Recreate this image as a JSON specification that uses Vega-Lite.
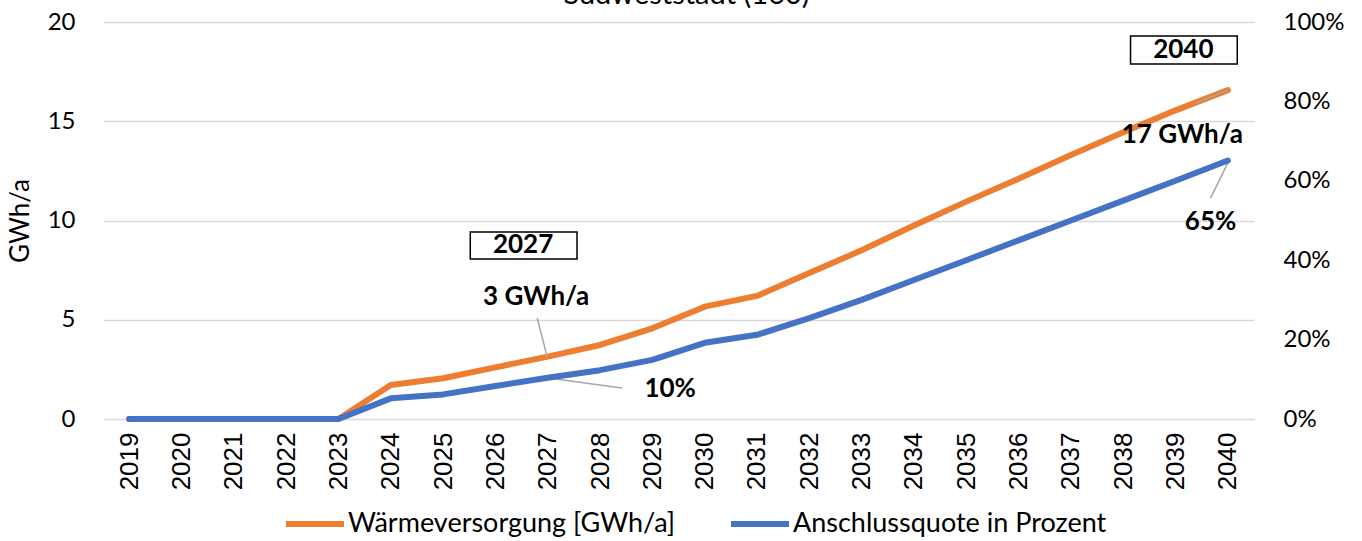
{
  "$schema": "https://vega.github.io/schema/vega-lite/v6.json",
  "width": 1151,
  "height": 397,
  "autosize": {"type": "none"},
  "padding": {"top": 22, "left": 103, "right": 108, "bottom": 122},
  "background": "white",
  "title": {
    "text": "Südweststadt (160)",
    "font": "Lato",
    "fontSize": 29,
    "fontWeight": "normal",
    "color": "#000000",
    "anchor": "middle",
    "frame": "group",
    "orient": "top",
    "baseline": "bottom",
    "offset": 0,
    "dy": 29,
    "dx": 8
  },
  "data": {
    "values": [
      {"year": 2019, "waerme": 0, "quote": 0},
      {"year": 2020, "waerme": 0, "quote": 0},
      {"year": 2021, "waerme": 0, "quote": 0},
      {"year": 2022, "waerme": 0, "quote": 0},
      {"year": 2023, "waerme": 0, "quote": 0},
      {"year": 2024, "waerme": 1.71, "quote": 0.052},
      {"year": 2025, "waerme": 2.05, "quote": 0.062},
      {"year": 2026, "waerme": 2.6, "quote": 0.083},
      {"year": 2027, "waerme": 3.14, "quote": 0.104},
      {"year": 2028, "waerme": 3.73, "quote": 0.123},
      {"year": 2029, "waerme": 4.57, "quote": 0.149},
      {"year": 2030, "waerme": 5.66, "quote": 0.192},
      {"year": 2031, "waerme": 6.2, "quote": 0.212},
      {"year": 2032, "waerme": 7.35, "quote": 0.254},
      {"year": 2033, "waerme": 8.5, "quote": 0.3},
      {"year": 2034, "waerme": 9.75, "quote": 0.35},
      {"year": 2035, "waerme": 10.95, "quote": 0.4},
      {"year": 2036, "waerme": 12.1, "quote": 0.45},
      {"year": 2037, "waerme": 13.3, "quote": 0.5},
      {"year": 2038, "waerme": 14.45, "quote": 0.55},
      {"year": 2039, "waerme": 15.55, "quote": 0.6},
      {"year": 2040, "waerme": 16.57, "quote": 0.651}
    ]
  },
  "encoding": {
    "x": {
      "field": "year",
      "type": "quantitative",
      "scale": {"domain": [2018.5, 2040.5], "nice": false, "zero": false},
      "axis": {
        "title": null,
        "values": [2019, 2020, 2021, 2022, 2023, 2024, 2025, 2026, 2027, 2028, 2029, 2030, 2031, 2032, 2033, 2034, 2035, 2036, 2037, 2038, 2039, 2040],
        "format": "d",
        "labelAngle": -90,
        "labelFont": "Liberation Sans",
        "labelFontSize": 26,
        "labelColor": "#000000",
        "labelPadding": 13,
        "labelFlush": false,
        "labelOverlap": false,
        "grid": false,
        "ticks": false,
        "domain": false
      }
    }
  },
  "layer": [
    {
      "layer": [
        {
          "mark": {"type": "line", "strokeWidth": 6, "strokeCap": "round", "strokeJoin": "round"},
          "encoding": {
            "y": {
              "field": "waerme",
              "type": "quantitative",
              "scale": {"domain": [0, 20], "nice": false},
              "axis": {
                "title": "GWh/a",
                "values": [0, 5, 10, 15, 20],
                "grid": true,
                "gridColor": "#d9d9d9",
                "gridWidth": 1.5,
                "ticks": false,
                "domain": false,
                "labelFont": "Lato",
                "labelFontSize": 24,
                "labelColor": "#000000",
                "labelPadding": 28,
                "titleFont": "Lato",
                "titleFontSize": 26,
                "titleFontWeight": "normal",
                "titleColor": "#000000",
                "titlePadding": 14
              }
            },
            "color": {
              "datum": "Wärmeversorgung [GWh/a]",
              "type": "nominal",
              "scale": {
                "domain": ["Wärmeversorgung [GWh/a]", "Anschlussquote in Prozent"],
                "range": ["#ED7D31", "#4472C4"]
              },
              "legend": {
                "title": null,
                "orient": "none",
                "direction": "horizontal",
                "legendX": 180,
                "legendY": 470,
                "symbolType": "stroke",
                "symbolSize": 3364,
                "symbolStrokeWidth": 6,
                "labelFont": "Lato",
                "labelFontSize": 27,
                "labelColor": "#000000",
                "labelOffset": 1,
                "columnPadding": 43,
                "labelLimit": 500
              }
            }
          }
        },
        {
          "data": {
            "values": [
              {"year": 2026.8, "year2": 2026.99, "v": 5.09, "v2": 3.12},
              {"year": 2027.01, "year2": 2028.42, "v": 2.07, "v2": 1.56},
              {"year": 2040.01, "year2": 2039.67, "v": 12.95, "v2": 11.13},
              {"year": 2040.01, "year2": 2039.38, "v": 16.57, "v2": 15.92}
            ]
          },
          "mark": {"type": "rule", "color": "#a6a6a6", "strokeWidth": 1.5},
          "encoding": {
            "x2": {"field": "year2"},
            "y": {"field": "v", "type": "quantitative", "axis": {"title": "GWh/a"}},
            "y2": {"field": "v2"}
          }
        },
        {
          "data": {
            "values": [
              {"year": 2025.52, "year2": 2027.56, "v": 9.42, "v2": 8.06},
              {"year": 2038.14, "year2": 2040.18, "v": 19.29, "v2": 17.88}
            ]
          },
          "mark": {"type": "rect", "fill": "white", "stroke": "#000000", "strokeWidth": 1.5},
          "encoding": {
            "x2": {"field": "year2"},
            "y": {"field": "v", "type": "quantitative", "axis": {"title": "GWh/a"}},
            "y2": {"field": "v2"}
          }
        },
        {
          "data": {
            "values": [
              {"year": 2026.53, "v": 8.77, "label": "2027"},
              {"year": 2039.15, "v": 18.59, "label": "2040"},
              {"year": 2026.78, "v": 6.15, "label": "3 GWh/a"},
              {"year": 2029.34, "v": 1.51, "label": "10%"},
              {"year": 2039.13, "v": 14.31, "label": "17 GWh/a"},
              {"year": 2039.67, "v": 9.92, "label": "65%"}
            ]
          },
          "mark": {"type": "text", "font": "Lato", "fontSize": 26, "fontWeight": "bold", "color": "#000000", "align": "center", "baseline": "middle"},
          "encoding": {
            "y": {"field": "v", "type": "quantitative", "axis": {"title": "GWh/a"}},
            "text": {"field": "label"}
          }
        }
      ]
    },
    {
      "mark": {"type": "line", "strokeWidth": 6, "strokeCap": "round", "strokeJoin": "round"},
      "encoding": {
        "y": {
          "field": "quote",
          "type": "quantitative",
          "scale": {"domain": [0, 1], "nice": false},
          "axis": {
            "orient": "right",
            "title": null,
            "format": ".0%",
            "values": [0, 0.2, 0.4, 0.6, 0.8, 1],
            "grid": false,
            "ticks": false,
            "domain": false,
            "labelFont": "Lato",
            "labelFontSize": 24,
            "labelColor": "#000000",
            "labelPadding": 29
          }
        },
        "color": {"datum": "Anschlussquote in Prozent", "type": "nominal"}
      }
    }
  ],
  "resolve": {"scale": {"y": "independent"}},
  "config": {
    "view": {"stroke": null}
  }
}
